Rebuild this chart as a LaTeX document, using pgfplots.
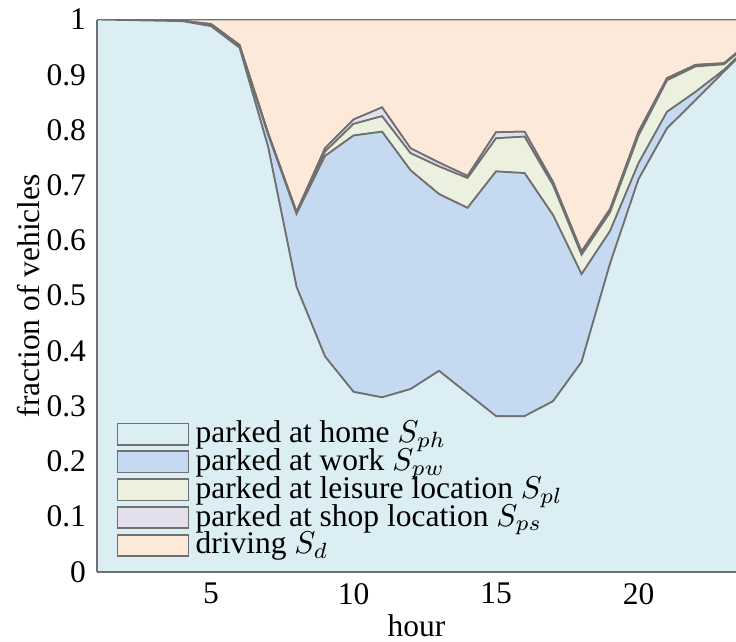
\documentclass[border=0pt]{standalone}
\usepackage{fontspec}
\setmainfont{Liberation Serif}
\usepackage{pgfplots}
\usepackage{pgfplotstable}
\pgfplotsset{compat=1.18}
\definecolor{home}{HTML}{DAEEF3}
\definecolor{work}{HTML}{C5D9F1}
\definecolor{leis}{HTML}{EBF1DE}
\definecolor{shop}{HTML}{E4DFEC}
\definecolor{drive}{HTML}{FDE9D9}
\definecolor{edge}{RGB}{112,112,112}

\pgfplotstableread{
h  home  work  leisure shop  driving
1  1.000 0.000 0.000 0.000  0.000
2  0.999 0.000 0.000 0.000  0.001
3  0.998 0.000 0.000 0.000  0.002
4  0.997 0.000 0.000 0.0005 0.0025
5  0.988 0.002 0.001 0.001  0.008
6  0.949 0.003 0.001 0.001  0.046
7  0.770 0.022 0.002 0.001  0.205
8  0.516 0.132 0.002 0.002  0.348
9  0.390 0.363 0.008 0.006  0.233
10 0.326 0.464 0.021 0.008  0.181
11 0.316 0.481 0.028 0.016  0.159
12 0.331 0.396 0.031 0.009  0.233
13 0.364 0.320 0.050 0.007  0.259
14 0.323 0.336 0.054 0.004  0.283
15 0.282 0.443 0.060 0.011  0.204
16 0.282 0.440 0.066 0.009  0.203
17 0.309 0.337 0.054 0.006  0.294
18 0.380 0.159 0.035 0.006  0.420
19 0.558 0.059 0.034 0.006  0.343
20 0.711 0.029 0.050 0.007  0.203
21 0.803 0.030 0.057 0.004  0.106
22 0.854 0.015 0.046 0.003  0.082
23 0.906 0.003 0.010 0.002  0.079
24 0.957 0.001 0.004 0.002  0.036
}\data

\begin{document}
\begin{tikzpicture}
\begin{axis}[
  scale only axis,
  width=202.9pt, height=175.4pt,
  xmin=1, xmax=23.42, ymin=0, ymax=1,
  axis x line*=box, axis y line*=left,
  axis line style={draw=edge, line width=0.6pt, -},
  every outer x axis line/.append style={-},
  every outer y axis line/.append style={-},
  every inner x axis line/.append style={-},
  every inner y axis line/.append style={-},
  major tick length=0pt,
  xtick={5,10,15,20},
  ytick={0,0.1,0.2,0.3,0.4,0.5,0.6,0.7,0.8,0.9,1},
  yticklabels={0,0.1,0.2,0.3,0.4,0.5,0.6,0.7,0.8,0.9,1},
  /pgf/number format/assume math mode=true,
  tick label style={font=\fontsize{10}{12}\selectfont},
  xlabel={hour}, ylabel={fraction of vehicles},
  label style={font=\fontsize{10}{12}\selectfont},
  xlabel style={yshift=3.6pt},
  ylabel style={yshift=-4.6pt},
  stack plots=y,
  area style,
  every axis plot/.append style={draw=edge, line width=0.55pt},
  legend style={at={(0.015,0.0)}, anchor=south west, draw=none, fill=none,
    row sep=-3.6pt, font=\fontsize{10}{12}\selectfont, cells={anchor=west}},
  legend image code/.code={\draw[#1, draw=edge, line width=0.55pt] (0pt,-3.4pt) rectangle (22.5pt,3.4pt);},
]
\addplot[fill=home] table[x=h, y=home] {\data} \closedcycle;
\addplot[fill=work] table[x=h, y=work] {\data} \closedcycle;
\addplot[fill=leis] table[x=h, y=leisure] {\data} \closedcycle;
\addplot[fill=shop] table[x=h, y=shop] {\data} \closedcycle;
\addplot[fill=drive] table[x=h, y=driving] {\data} \closedcycle;
\legend{parked at home $S_{ph}$, parked at work $S_{pw}$, parked at leisure location $S_{pl}$, parked at shop location $S_{ps}$, driving $S_{d}$}
\coordinate (sw) at (rel axis cs:0,0);
\coordinate (ne) at (rel axis cs:1,1);
\end{axis}
\pgfresetboundingbox
\path ([shift={(-30.8pt,-22.2pt)}]sw) rectangle ([shift={(0pt,6.2pt)}]ne);
\end{tikzpicture}
\end{document}
